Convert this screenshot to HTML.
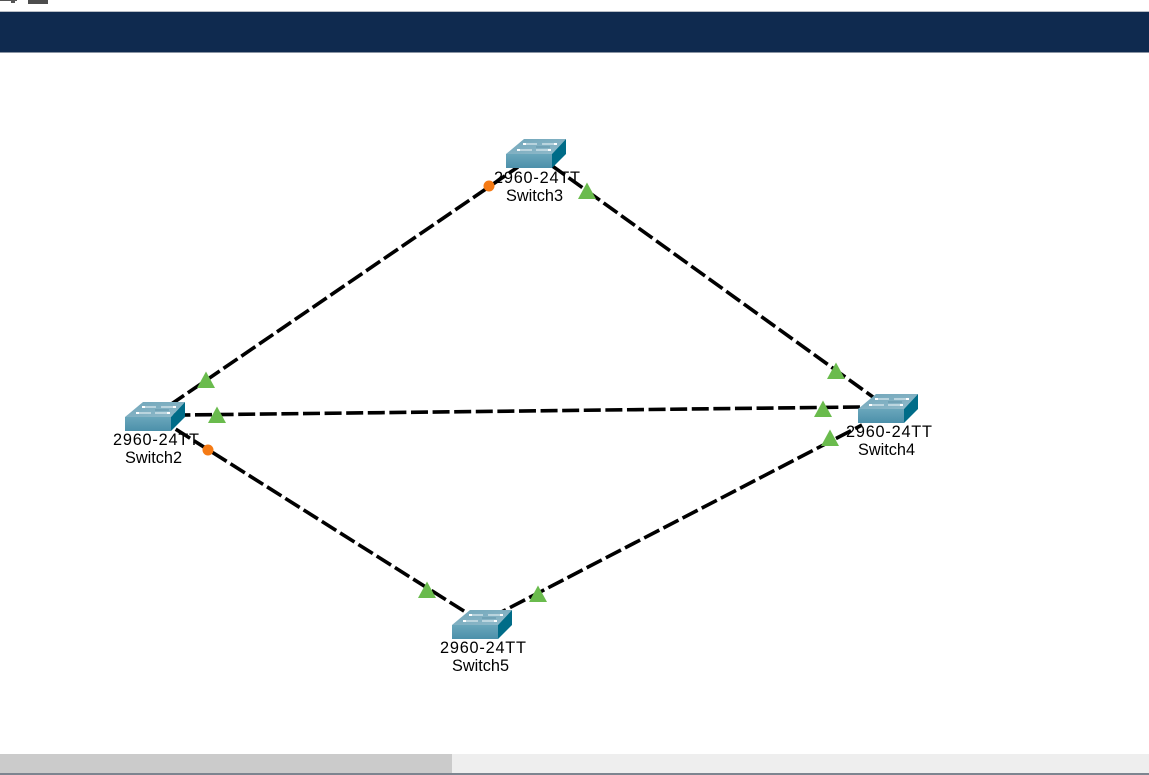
<!DOCTYPE html>
<html>
<head>
<meta charset="utf-8">
<style>
html,body{margin:0;padding:0;background:#fff;}
body{width:1149px;height:775px;overflow:hidden;position:relative;font-family:"Liberation Sans",sans-serif;}
svg{position:absolute;left:0;top:0;}
text{font-family:"Liberation Sans",sans-serif;font-size:16.3px;fill:#000;}
</style>
</head>
<body>
<svg width="1149" height="775" viewBox="0 0 1149 775" xmlns="http://www.w3.org/2000/svg">
<defs>
<linearGradient id="top" x1="0" y1="0" x2="1" y2="1">
<stop offset="0" stop-color="#6fa5b9"/>
<stop offset="1" stop-color="#92bbcb"/>
</linearGradient>
<linearGradient id="front" x1="0" y1="0" x2="0" y2="1">
<stop offset="0" stop-color="#69a6bb"/>
<stop offset="1" stop-color="#4c90aa"/>
</linearGradient>
<g id="sw">
<polygon points="0,15 18,0 60,0 46,15" fill="url(#top)"/>
<rect x="0" y="15" width="46" height="14" fill="url(#front)"/>
<polygon points="46,15 60,0 60,15 46,29" fill="#006c88"/>
<g stroke="#f2f8fa" stroke-width="1" fill="none">
<line x1="18" y1="5" x2="31" y2="5"/>
<line x1="36" y1="5" x2="50" y2="5"/>
<line x1="12" y1="11" x2="26" y2="11"/>
<line x1="30" y1="11" x2="44" y2="11"/>
</g>
<g fill="#fff">
<rect x="17" y="4" width="3" height="2"/>
<rect x="48" y="4" width="3" height="2"/>
<rect x="11" y="10" width="3" height="2"/>
<rect x="42" y="10" width="3" height="2"/>
</g>
<line x1="30" y1="8" x2="44" y2="8" stroke="#5f93a8" stroke-width="1"/>
</g>
<polygon id="tri" points="0,-8.5 9,8 -9,8" fill="#6abb4d"/>
</defs>

<!-- top bar remnants -->
<rect x="0" y="0" width="17" height="1" fill="#555"/>
<rect x="11" y="0" width="4" height="3" fill="#555"/>
<rect x="28" y="0" width="20" height="4" fill="#4d4d4d"/>

<!-- header -->
<rect x="0" y="11" width="1149" height="1" fill="#b9bec6"/>
<rect x="0" y="12" width="1149" height="40" fill="#0f2a4f"/>
<rect x="0" y="52" width="1149" height="1" fill="#8a94a3"/>

<!-- links -->
<g stroke="#000" stroke-width="3.6" fill="none" stroke-dasharray="17 4.6">
<line x1="170" y1="405" x2="518" y2="167"/>
<line x1="533.5" y1="152.4" x2="873" y2="397"/>
<line x1="173.4" y1="415.1" x2="860" y2="407"/>
<line x1="175.7" y1="429.2" x2="467" y2="613"/>
<line x1="490.8" y1="617.5" x2="862" y2="425"/>
</g>

<!-- switches -->
<use href="#sw" x="506" y="139"/>
<use href="#sw" x="125" y="402"/>
<use href="#sw" x="858" y="394"/>
<use href="#sw" x="452" y="610"/>

<!-- labels -->
<text x="494" y="183" textLength="86" lengthAdjust="spacing">2960-24TT</text>
<text x="506" y="201">Switch3</text>
<text x="113" y="445" textLength="86" lengthAdjust="spacing">2960-24TT</text>
<text x="125" y="463">Switch2</text>
<text x="846" y="437" textLength="86" lengthAdjust="spacing">2960-24TT</text>
<text x="858" y="455">Switch4</text>
<text x="440" y="653" textLength="86" lengthAdjust="spacing">2960-24TT</text>
<text x="452" y="671">Switch5</text>

<!-- link lights -->
<use href="#tri" x="206" y="380"/>
<use href="#tri" x="587" y="191"/>
<use href="#tri" x="836" y="371"/>
<use href="#tri" x="217" y="415"/>
<use href="#tri" x="823" y="409"/>
<use href="#tri" x="830" y="438"/>
<use href="#tri" x="427" y="590"/>
<use href="#tri" x="538" y="594"/>
<circle cx="489" cy="186" r="5.5" fill="#f57a14"/>
<circle cx="208" cy="450" r="5.5" fill="#f57a14"/>

<!-- scrollbar -->
<rect x="0" y="754" width="1149" height="19" fill="#eeeeee"/>
<rect x="0" y="754" width="452" height="19" fill="#cbcbcb"/>
<rect x="0" y="773" width="1149" height="2" fill="#7d8590"/>
</svg>
</body>
</html>
